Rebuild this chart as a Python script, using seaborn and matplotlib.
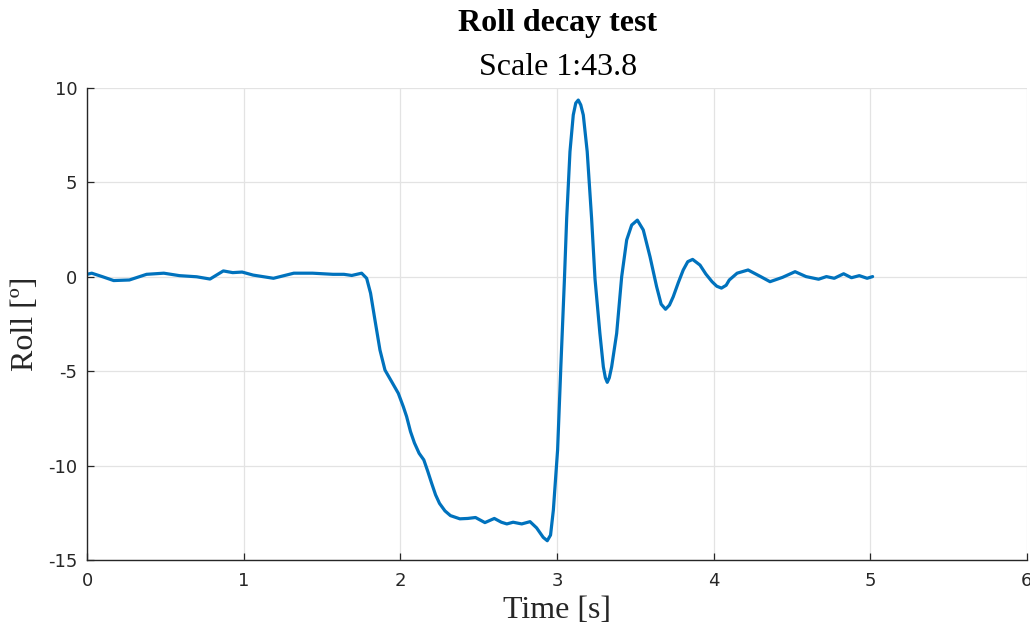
import matplotlib
matplotlib.use("Agg")
import matplotlib.pyplot as plt
import seaborn as sns
import pandas as pd

# Roll decay measurement (time in seconds, roll angle in degrees)
time_s = [
    0.00, 0.03, 0.10, 0.17, 0.27, 0.38, 0.49, 0.59, 0.70, 0.785, 0.87, 0.93,
    0.99, 1.06, 1.19, 1.32, 1.44, 1.57, 1.64, 1.69, 1.753, 1.785, 1.81, 1.838,
    1.87, 1.902, 1.945, 1.987, 2.019, 2.04, 2.065, 2.09, 2.12, 2.15, 2.175,
    2.20, 2.225, 2.25, 2.285, 2.32, 2.38, 2.43, 2.48, 2.54, 2.60, 2.645,
    2.68, 2.72, 2.775, 2.828, 2.87, 2.912, 2.938, 2.959, 2.977, 2.992, 3.004,
    3.025, 3.047, 3.062, 3.083, 3.104, 3.12, 3.136, 3.152, 3.168, 3.193,
    3.221, 3.243, 3.274, 3.296, 3.309, 3.321, 3.334, 3.349, 3.381, 3.413,
    3.445, 3.477, 3.513, 3.551, 3.594, 3.636, 3.665, 3.693, 3.718, 3.742,
    3.775, 3.806, 3.835, 3.866, 3.913, 3.95, 3.99, 4.02, 4.05, 4.08, 4.10,
    4.15, 4.22, 4.30, 4.36, 4.44, 4.52, 4.59, 4.67, 4.72, 4.77, 4.83, 4.88,
    4.93, 4.98, 5.015,
]
roll_deg = [
    0.13, 0.19, 0.00, -0.20, -0.17, 0.13, 0.19, 0.06, 0.00, -0.12, 0.31, 0.22,
    0.25, 0.09, -0.08, 0.19, 0.19, 0.13, 0.13, 0.07, 0.19, -0.08, -0.87, -2.29,
    -3.88, -4.94, -5.56, -6.17, -6.88, -7.40, -8.20, -8.80, -9.35, -9.70,
    -10.30, -10.94, -11.55, -12.00, -12.40, -12.65, -12.82, -12.80, -12.75,
    -13.02, -12.80, -13.00, -13.09, -13.00, -13.09, -12.97, -13.30, -13.80,
    -13.98, -13.68, -12.35, -10.58, -9.17, -4.70, -0.26, 3.10, 6.63, 8.57,
    9.20, 9.36, 9.10, 8.57, 6.63, 3.10, -0.13, -3.00, -4.77, -5.35, -5.59,
    -5.35, -4.77, -3.00, 0.00, 1.95, 2.74, 3.00, 2.48, 1.06, -0.52, -1.45,
    -1.72, -1.50, -1.06, -0.30, 0.36, 0.80, 0.92, 0.62, 0.15, -0.26, -0.50,
    -0.60, -0.45, -0.17, 0.19, 0.36, 0.01, -0.26, -0.03, 0.27, 0.01, -0.13,
    0.01, -0.08, 0.16, -0.05, 0.06, -0.08, 0.01,
]

x_ticks = [0, 1, 2, 3, 4, 5, 6]
y_ticks = [-15, -10, -5, 0, 5, 10]

df = pd.DataFrame({"Time": time_s, "Roll": roll_deg})

sns.set_theme(style="whitegrid")
plt.rcParams["font.family"] = ["DejaVu Sans"]

fig = plt.figure(figsize=(10.30, 6.37), dpi=100)
ax = fig.add_axes([0.0845, 0.1209, 0.9125, 0.7410])

sns.lineplot(data=df, x="Time", y="Roll", ax=ax, color="#0072BD",
             linewidth=2.3, sort=False, estimator=None)
ax.lines[0].set_solid_joinstyle("round")
ax.lines[0].set_solid_capstyle("round")

ax.set_xlim(0, 6)
ax.set_ylim(-15, 10)
ax.set_xticks(x_ticks)
ax.set_yticks(y_ticks)
ax.set_xticklabels([str(v) for v in x_ticks])
ax.set_yticklabels([str(v) for v in y_ticks])

ax.grid(True, color="#e3e3e3", linewidth=0.9)
ax.set_axisbelow(True)
for side in ("top", "right"):
    ax.spines[side].set_visible(False)
for side in ("left", "bottom"):
    ax.spines[side].set_color("#262626")
    ax.spines[side].set_linewidth(1.0)

ax.tick_params(axis="both", direction="in", length=5, width=0.9,
               color="#262626", labelcolor="#262626", labelsize=13,
               left=True, bottom=True)
ax.tick_params(axis="x", pad=9)
ax.tick_params(axis="y", pad=7)

serif = ["Liberation Serif", "DejaVu Serif"]
ax.set_xlabel("Time [s]", fontsize=23, family=serif, color="#262626", labelpad=4)
ax.set_ylabel("Roll [º]", fontsize=23, family=serif, color="#262626", labelpad=6)

fig.text(0.5415, 0.963, "Roll decay test", ha="center", va="center",
         fontsize=23, fontweight="bold", family=serif, color="black")
fig.text(0.5415, 0.894, "Scale 1:43.8", ha="center", va="center",
         fontsize=23, family=serif, color="black")

fig.savefig("out.png", dpi=100)
